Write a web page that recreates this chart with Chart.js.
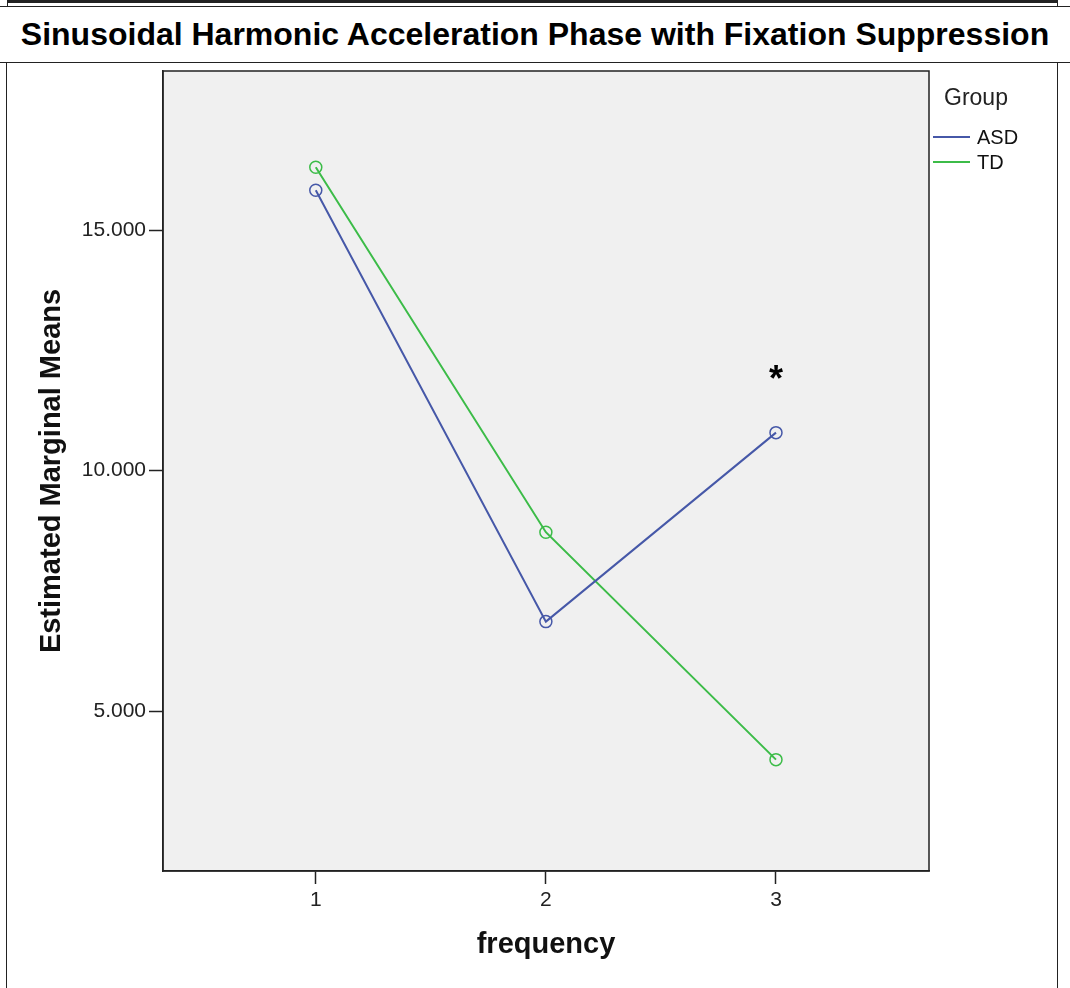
<!DOCTYPE html>
<html>
<head>
<meta charset="utf-8">
<script src="https://cdn.jsdelivr.net/npm/chart.js@4"></script>
<style>
  body { margin: 0; background: #fff; }
  #wrap { position: relative; width: 1070px; height: 988px; overflow: hidden; font-family: 'Liberation Sans', Arial, sans-serif; }
  .ln { position: absolute; background: #222; }
  #titulo { position: absolute; left: 0; top: 6px; width: 1070px; height: 56px; line-height: 56px; text-align: center;
            font-weight: bold; font-size: 32px; color: #000; }
  canvas { position: absolute; left: 0; top: 0; }
</style>
</head>
<body>
<div id="wrap">
  <!-- marcos -->
  <div class="ln" style="left:7px; top:0; width:1050px; height:3px;"></div>
  <div class="ln" style="left:7px; top:0; width:1px; height:6px;"></div>
  <div class="ln" style="left:1057px; top:0; width:1px; height:6px;"></div>
  <div class="ln" style="left:0; top:6px; width:1070px; height:1px;"></div>
  <div class="ln" style="left:0; top:62px; width:1070px; height:1px;"></div>
  <div class="ln" style="left:6px; top:62px; width:1px; height:926px;"></div>
  <div class="ln" style="left:1057px; top:62px; width:1px; height:926px;"></div>
  <div id="titulo">Sinusoidal Harmonic Acceleration Phase with Fixation Suppression</div>
  <canvas id="medias" width="1070" height="988"></canvas>
</div>
<script>
// datos
const frecuencias = [1, 2, 3];
const mediasASD = [15.83, 6.86, 10.79];
const mediasTD = [16.31, 8.72, 3.99];
const ticksX = [1, 2, 3];
const ticksY = [5, 10, 15];
const asterisco = { x: 3, y: 12.0, texto: '*' };

const fuente = "'Liberation Sans', Arial, sans-serif";

// fondo y marco del area
const fondoArea = {
    id: 'fondoArea',
    beforeDraw(chart) {
        const { ctx, chartArea: a } = chart;
        ctx.save();
        ctx.fillStyle = '#f0f0f0';
        ctx.fillRect(a.left, a.top, a.right - a.left, a.bottom - a.top);
        ctx.restore();
    },
    afterDraw(chart) {
        const { ctx, chartArea: a } = chart;
        ctx.save();
        ctx.strokeStyle = '#222';
        ctx.lineWidth = 1.5;
        ctx.strokeRect(a.left, a.top, a.right - a.left, a.bottom - a.top);
        ctx.restore();
    }
};

// asterisco y leyenda
const extras = {
    id: 'extras',
    afterDraw(chart) {
        const { ctx, scales } = chart;
        ctx.save();
        const px = scales.x.getPixelForValue(asterisco.x);
        const py = scales.y.getPixelForValue(asterisco.y);
        ctx.font = 'bold 36px ' + fuente;
        ctx.fillStyle = '#000';
        ctx.textAlign = 'center';
        ctx.textBaseline = 'alphabetic';
        ctx.fillText(asterisco.texto, px, py + 17);

        // leyenda
        ctx.textAlign = 'left';
        ctx.textBaseline = 'middle';
        ctx.fillStyle = '#222';
        ctx.font = '23px ' + fuente;
        ctx.fillText('Group', 944, 99);
        ctx.font = '20px ' + fuente;
        chart.data.datasets.forEach((ds, i) => {
            const y = 137 + i * 25;
            ctx.strokeStyle = ds.borderColor;
            ctx.lineWidth = 2;
            ctx.beginPath();
            ctx.moveTo(933, y);
            ctx.lineTo(970, y);
            ctx.stroke();
            ctx.fillStyle = '#111';
            ctx.fillText(ds.label, 977, y + 1);
        });
        ctx.restore();
    }
};

const serie = (vals) => frecuencias.map((f, i) => ({ x: f, y: vals[i] }));

const medias = new Chart(
    document.getElementById('medias'), {
    type: 'line',
    data: {
        datasets: [
            {
                label: 'ASD',
                data: serie(mediasASD),
                borderColor: '#4658a8',
                backgroundColor: 'transparent',
                borderWidth: 2,
                tension: 0,
                pointStyle: 'circle',
                pointRadius: 6,
                pointBorderWidth: 1.5,
                pointBackgroundColor: 'transparent',
                fill: false
            },
            {
                label: 'TD',
                data: serie(mediasTD),
                borderColor: '#3cbc48',
                backgroundColor: 'transparent',
                borderWidth: 2,
                tension: 0,
                pointStyle: 'circle',
                pointRadius: 6,
                pointBorderWidth: 1.5,
                pointBackgroundColor: 'transparent',
                fill: false
            }
        ]
    },
    options: {
        responsive: false,
        animation: false,
        layout: { padding: { left: 0, right: 141, top: 71, bottom: 0 } },
        plugins: {
            legend: { display: false },
            tooltip: { enabled: false }
        },
        scales: {
            x: {
                type: 'linear',
                min: 0.336,
                max: 3.665,
                afterFit(s) { s.height = 117; },
                afterBuildTicks(s) { s.ticks = ticksX.map(v => ({ value: v })); },
                grid: { drawOnChartArea: false, drawTicks: true, tickLength: 13, tickColor: '#222', tickWidth: 1.5 },
                border: { display: true, color: '#222', width: 1.5 },
                ticks: {
                    padding: 4,
                    color: '#222',
                    font: { family: fuente, size: 21 },
                    callback: v => String(v)
                },
                title: {
                    display: true,
                    text: 'frequency',
                    color: '#111',
                    font: { family: fuente, size: 29, weight: 'bold' },
                    padding: { top: 0, bottom: 26 }
                }
            },
            y: {
                type: 'linear',
                min: 1.674,
                max: 18.31,
                afterFit(s) { s.width = 163; },
                afterBuildTicks(s) { s.ticks = ticksY.map(v => ({ value: v })); },
                grid: { drawOnChartArea: false, drawTicks: true, tickLength: 14, tickColor: '#222', tickWidth: 1.5 },
                border: { display: true, color: '#222', width: 1.5 },
                ticks: {
                    padding: 3,
                    color: '#222',
                    font: { family: fuente, size: 21 },
                    callback: v => Number(v).toFixed(3)
                },
                title: {
                    display: true,
                    text: 'Estimated Marginal Means',
                    color: '#111',
                    font: { family: fuente, size: 29, weight: 'bold' },
                    padding: { top: 35, bottom: 0 }
                }
            }
        }
    },
    plugins: [fondoArea, extras]
});
</script>
</body>
</html>
